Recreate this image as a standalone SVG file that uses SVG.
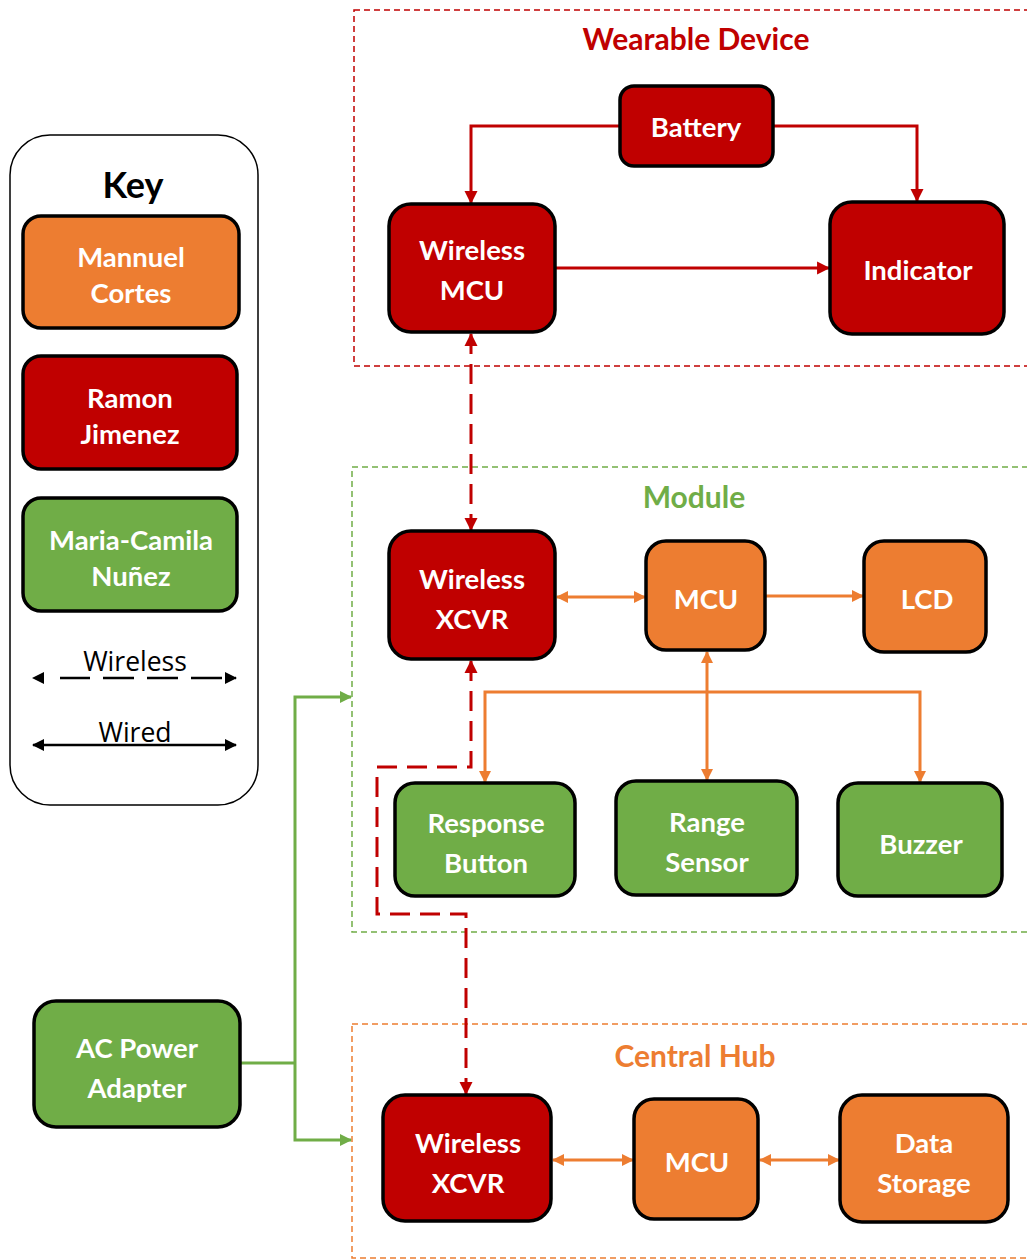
<svg xmlns="http://www.w3.org/2000/svg" width="1027" height="1260" viewBox="0 0 1027 1260">
<style>
.node rect{stroke:#000;stroke-width:3.5}
.red{fill:#C00000}.org{fill:#ED7D31}.grn{fill:#70AD47}
.nt{font-family:Lato,"Open Sans","Liberation Sans",sans-serif;font-weight:bold;font-size:27.5px;fill:#fff;text-anchor:middle;dominant-baseline:central}
.title{font-family:Lato,"Open Sans","Liberation Sans",sans-serif;font-weight:bold;font-size:30px;text-anchor:middle;dominant-baseline:central}
.lg{font-family:"Open Sans","Liberation Sans",sans-serif;font-size:26.5px;text-anchor:middle;dominant-baseline:central;fill:#000}
.cont{fill:none;stroke-width:1.5;stroke-dasharray:6 4}
.wr{fill:none;stroke:#C00000;stroke-width:3}
.wo{fill:none;stroke:#ED7D31;stroke-width:3}
.wg{fill:none;stroke:#70AD47;stroke-width:3}
.wl{fill:none;stroke:#C00000;stroke-width:3;stroke-dasharray:20 10}
</style>
<defs>
<marker id="ar" viewBox="0 0 12 12" refX="11" refY="6" markerWidth="13" markerHeight="14" markerUnits="userSpaceOnUse" orient="auto-start-reverse"><path d="M0,0L12,6L0,12z" fill="#C00000"/></marker>
<marker id="ao" viewBox="0 0 12 12" refX="11" refY="6" markerWidth="12" markerHeight="13" markerUnits="userSpaceOnUse" orient="auto-start-reverse"><path d="M0,0L12,6L0,12z" fill="#ED7D31"/></marker>
<marker id="ag" viewBox="0 0 12 12" refX="11" refY="6" markerWidth="12" markerHeight="13" markerUnits="userSpaceOnUse" orient="auto-start-reverse"><path d="M0,0L12,6L0,12z" fill="#70AD47"/></marker>
<marker id="ak" viewBox="0 0 12 12" refX="11" refY="6" markerWidth="14" markerHeight="12" markerUnits="userSpaceOnUse" orient="auto-start-reverse"><path d="M0,0L12,6L0,12z" fill="#000"/></marker>
</defs>

<g id="key">
<rect x="10" y="135" width="248" height="670" rx="40" fill="#fff" stroke="#000" stroke-width="1.5"/>
<text x="133" y="184" class="title" style="font-size:36px;fill:#000">Key</text>
<g class="node"><rect x="23" y="216" width="216" height="112" rx="18" class="org"/></g>
<text x="131" y="256" class="nt">Mannuel</text><text x="131" y="292" class="nt">Cortes</text>
<g class="node"><rect x="23" y="356" width="214" height="113" rx="18" class="red"/></g>
<text x="130" y="397" class="nt">Ramon</text><text x="130" y="433" class="nt">Jimenez</text>
<g class="node"><rect x="23" y="498" width="214" height="113" rx="18" class="grn"/></g>
<text x="131" y="539" class="nt">Maria-Camila</text><text x="131" y="575" class="nt">Nuñez</text>
<text x="135" y="661" class="lg">Wireless</text>
<line x1="33" y1="678" x2="236" y2="678" stroke="#000" stroke-width="2.5" stroke-dasharray="0 27 30 13 31 13 31 13 31 13 30" marker-start="url(#ak)" marker-end="url(#ak)"/>
<text x="135" y="732" class="lg">Wired</text>
<line x1="33" y1="745" x2="236" y2="745" stroke="#000" stroke-width="2.5" marker-start="url(#ak)" marker-end="url(#ak)"/>
</g>

<g id="wearable">
<rect x="354" y="10" width="690" height="356" class="cont" stroke="#C00000"/>
<text x="696" y="38" class="title" fill="#C00000">Wearable Device</text>
</g>
<g id="module">
<rect x="352" y="467" width="690" height="465" class="cont" stroke="#70AD47"/>
<text x="694" y="496" class="title" fill="#70AD47">Module</text>
</g>
<g id="hub">
<rect x="352" y="1024" width="690" height="234" class="cont" stroke="#ED7D31"/>
<text x="695" y="1055" class="title" fill="#ED7D31">Central Hub</text>
</g>

<g id="connectors">
<path d="M620,126H471V203" class="wr" marker-end="url(#ar)"/>
<path d="M773,126H917V201" class="wr" marker-end="url(#ar)"/>
<path d="M555,268H829" class="wr" marker-end="url(#ar)"/>
<path d="M471,334V530" class="wl" marker-start="url(#ar)" marker-end="url(#ar)"/>
<path d="M471,661V767H377V914H466V1094" class="wl" marker-start="url(#ar)" marker-end="url(#ar)"/>
<path d="M557,597H645" class="wo" marker-start="url(#ao)" marker-end="url(#ao)"/>
<path d="M766,596H863" class="wo" marker-end="url(#ao)"/>
<path d="M707,652V780" class="wo" marker-start="url(#ao)" marker-end="url(#ao)"/>
<path d="M485,782V692H920V782" class="wo" marker-start="url(#ao)" marker-end="url(#ao)"/>
<path d="M553,1160H633" class="wo" marker-start="url(#ao)" marker-end="url(#ao)"/>
<path d="M760,1160H839" class="wo" marker-start="url(#ao)" marker-end="url(#ao)"/>
<path d="M240,1063H295" class="wg"/>
<path d="M351,697H295V1140H351" class="wg" marker-start="url(#ag)" marker-end="url(#ag)"/>
</g>

<g id="battery" class="node"><rect x="620" y="86" width="153" height="80" rx="14" class="red"/><text x="696" y="126" class="nt">Battery</text></g>
<g id="wmcu" class="node"><rect x="389" y="204" width="166" height="128" rx="22" class="red"/><text x="472" y="249" class="nt">Wireless</text><text x="472" y="289" class="nt">MCU</text></g>
<g id="indicator" class="node"><rect x="830" y="202" width="174" height="132" rx="22" class="red"/><text x="918" y="269" class="nt">Indicator</text></g>

<g id="mxcvr" class="node"><rect x="389" y="531" width="166" height="128" rx="22" class="red"/><text x="472" y="578" class="nt">Wireless</text><text x="472" y="618" class="nt">XCVR</text></g>
<g id="mmcu" class="node"><rect x="646" y="541" width="119" height="109" rx="20" class="org"/><text x="706" y="598" class="nt">MCU</text></g>
<g id="lcd" class="node"><rect x="864" y="541" width="122" height="111" rx="20" class="org"/><text x="927" y="598" class="nt">LCD</text></g>
<g id="resp" class="node"><rect x="395" y="783" width="180" height="113" rx="20" class="grn"/><text x="486" y="822" class="nt">Response</text><text x="486" y="862" class="nt">Button</text></g>
<g id="range" class="node"><rect x="616" y="781" width="181" height="114" rx="20" class="grn"/><text x="707" y="821" class="nt">Range</text><text x="707" y="861" class="nt">Sensor</text></g>
<g id="buzzer" class="node"><rect x="838" y="783" width="164" height="113" rx="20" class="grn"/><text x="921" y="843" class="nt">Buzzer</text></g>

<g id="hxcvr" class="node"><rect x="383" y="1095" width="168" height="126" rx="22" class="red"/><text x="468" y="1142" class="nt">Wireless</text><text x="468" y="1182" class="nt">XCVR</text></g>
<g id="hmcu" class="node"><rect x="634" y="1099" width="124" height="120" rx="20" class="org"/><text x="697" y="1161" class="nt">MCU</text></g>
<g id="storage" class="node"><rect x="840" y="1095" width="168" height="127" rx="22" class="org"/><text x="924" y="1142" class="nt">Data</text><text x="924" y="1182" class="nt">Storage</text></g>

<g id="ac" class="node"><rect x="34" y="1001" width="206" height="126" rx="22" class="grn"/><text x="137" y="1047" class="nt">AC Power</text><text x="137" y="1087" class="nt">Adapter</text></g>
</svg>
